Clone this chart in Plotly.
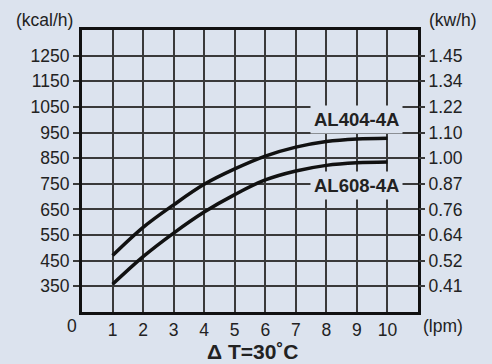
import plotly.graph_objects as go

flow_lpm = [1, 2, 3, 4, 5, 6, 7, 8, 9, 10]
al404_kcal = [470, 580, 668, 748, 808, 858, 893, 915, 925, 928]
al608_kcal = [358, 466, 558, 640, 708, 765, 800, 822, 832, 835]

kcal_ticks = [350, 450, 550, 650, 750, 850, 950, 1050, 1150, 1250]
kw_labels = ["0.41", "0.52", "0.64", "0.76", "0.87", "1.00", "1.10", "1.22", "1.34", "1.45"]
x_ticks = [1, 2, 3, 4, 5, 6, 7, 8, 9, 10]

BG = "#dce3ee"
TXT = "#222222"
FONT = "Liberation Sans, Arial, sans-serif"
TS = 17.5

fig = go.Figure()
fig.add_trace(go.Scatter(x=flow_lpm, y=al404_kcal, mode="lines",
                         line=dict(color="#111111", width=3.5, shape="spline"),
                         showlegend=False, hoverinfo="skip"))
fig.add_trace(go.Scatter(x=flow_lpm, y=al608_kcal, mode="lines",
                         line=dict(color="#111111", width=3.5, shape="spline"),
                         showlegend=False, hoverinfo="skip"))
# invisible trace to anchor right axis
fig.add_trace(go.Scatter(x=[flow_lpm[0]], y=[al608_kcal[0]], yaxis="y2", mode="markers",
                         marker=dict(opacity=0), showlegend=False, hoverinfo="skip"))

fig.update_layout(
    width=492, height=364,
    margin=dict(l=82, r=74, t=30, b=52),
    paper_bgcolor=BG, plot_bgcolor=BG,
    font=dict(family=FONT, size=TS, color=TXT),
    hovermode=False,
    xaxis=dict(range=[0, 11], tickvals=x_ticks, ticktext=[str(v) for v in x_ticks],
               showgrid=True, gridcolor="#3a3a3a", gridwidth=1.6,
               showline=True, linecolor="#111111", linewidth=3, mirror=True,
               ticks="", zeroline=False, fixedrange=True,
               tickfont=dict(size=TS, color=TXT)),
    yaxis=dict(range=[250, 1350], tickvals=kcal_ticks, ticktext=[str(v) for v in kcal_ticks],
               showgrid=True, gridcolor="#3a3a3a", gridwidth=1.6,
               showline=True, linecolor="#111111", linewidth=3, mirror=True,
               ticks="outside", ticklen=6, tickwidth=1.6, tickcolor="#3a3a3a",
               zeroline=False, fixedrange=True, tickfont=dict(size=TS, color=TXT)),
    yaxis2=dict(range=[250, 1350], overlaying="y", side="right",
                tickvals=kcal_ticks, ticktext=kw_labels, showgrid=False,
                ticks="outside", ticklen=6, tickwidth=1.6, tickcolor="#3a3a3a",
                zeroline=False, fixedrange=True, showline=False,
                tickfont=dict(size=TS, color=TXT)),
)

ann = [
    dict(text="AL404-4A", x=9.0, y=1000, xref="x", yref="y", showarrow=False,
         font=dict(size=18.5, color=TXT, family=FONT), bgcolor=BG, borderpad=3,
         xanchor="center", yanchor="middle"),
    dict(text="AL608-4A", x=9.0, y=745, xref="x", yref="y", showarrow=False,
         font=dict(size=18.5, color=TXT, family=FONT), bgcolor=BG, borderpad=3,
         xanchor="center", yanchor="middle"),
    dict(text="(kcal/h)", x=44, y=20, xref="paper", yref="paper", showarrow=False),
    dict(text="(kw/h)", x=453, y=20, showarrow=False),
    dict(text="(lpm)", x=443, y=326, showarrow=False),
    dict(text="0", x=72, y=326, showarrow=False),
    dict(text="<b>Δ T=30˚C</b>", x=253, y=351, showarrow=False),
]
# convert pixel-positioned annotations to paper coords
PL, PR, PT, PB = 82, 492 - 74, 30, 364 - 52
out = []
for a in ann:
    if a.get("xref") == "x":
        a["text"] = "<b>" + a["text"] + "</b>"
        out.append(a)
        continue
    px, py = a["x"], a["y"]
    a["xref"] = "paper"
    a["yref"] = "paper"
    a["x"] = (px - PL) / (PR - PL)
    a["y"] = (PB - py) / (PB - PT)
    a["xanchor"] = "center"
    a["yanchor"] = "middle"
    a.setdefault("font", dict(size=TS, color=TXT, family=FONT))
    out.append(a)
out[-1]["font"] = dict(size=21, color=TXT, family=FONT)
fig.update_layout(annotations=out)

fig.write_html("out.html", config={"displayModeBar": False},
               post_script="document.body.style.margin='0';document.body.style.overflow='hidden';")
